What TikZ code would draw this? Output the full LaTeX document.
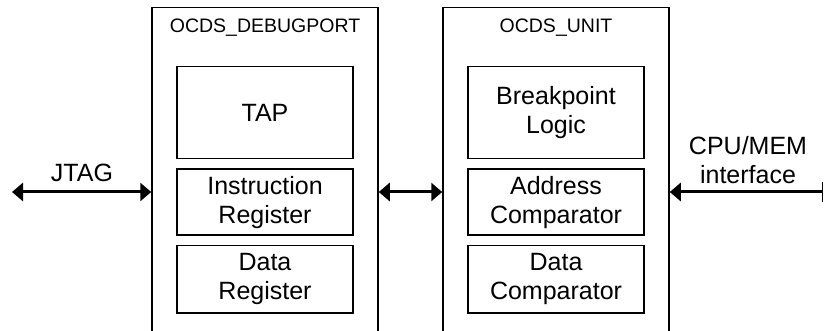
\documentclass[tikz,border=0pt]{standalone}
\usepackage{fontspec}
\setmainfont{Liberation Sans}
\usetikzlibrary{arrows.meta,positioning}
\tikzset{
  unitbox/.style={draw, line width=1.5pt, minimum width=226pt, minimum height=345pt,
    anchor=north, inner sep=0pt},
  unittitle/.style={font=\fontsize{19.5}{22}\selectfont, inner sep=0pt},
  block/.style={draw, line width=1.5pt, minimum width=176pt, align=center, inner sep=0pt,
    font=\fontsize{25}{29}\selectfont},
  buslabel/.style={font=\fontsize{25}{29}\selectfont, align=center, inner sep=0pt},
  busarr/.style={{Triangle[length=11pt,width=18pt]}-{Triangle[length=11pt,width=18pt]}, line width=3pt},
  cpuarr/.style={{Triangle[length=11pt,width=18pt]}-{Bar[width=20pt,line width=1.5pt]}, line width=3pt},
}
\begin{document}
\begin{tikzpicture}[x=1pt,y=-1pt]
  \useasboundingbox (0,0) rectangle (825,331);
  % the two units, open at the bottom
  \node[unitbox] (dbg) at (265,7) {};
  \node[unitbox] (ocds) at (556,7) {};
  \node[unittitle, below=12pt of dbg.north] (dbgt) {OCDS\_DEBUGPORT};
  \node[unittitle, below=12pt of ocds.north] (ocdst) {OCDS\_UNIT};
  % debug port blocks
  \node[block, minimum height=92pt, below=59pt of dbg.north] (tap) {TAP};
  \node[block, minimum height=66pt, below=9pt of tap] (ir) {Instruction\\Register};
  \node[block, minimum height=67pt, below=9pt of ir] (dr) {Data\\Register};
  % ocds unit blocks
  \node[block, minimum height=92pt, below=59pt of ocds.north] (bpl) {Breakpoint\\Logic};
  \node[block, minimum height=66pt, below=9pt of bpl] (ac) {Address\\Comparator};
  \node[block, minimum height=67pt, below=9pt of ac] (dc) {Data\\Comparator};
  % buses
  \coordinate (jtagend) at (12,192);
  \coordinate (cpuend) at (823,192);
  \node[buslabel] (jtag) at (82,172.5) {JTAG};
  \node[buslabel] (cpu) at (748,160) {CPU/MEM\\interface};
  \draw[busarr] (jtagend) -- (jtagend -| dbg.west);
  \draw[busarr] (dbg.east |- jtagend) -- (ocds.west |- jtagend);
  \draw[cpuarr] (ocds.east |- cpuend) -- (cpuend);
\end{tikzpicture}
\end{document}
